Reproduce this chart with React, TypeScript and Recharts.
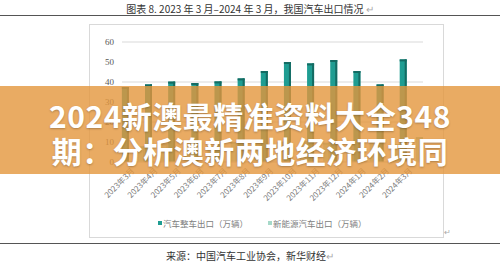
import { BarChart, Bar, XAxis, YAxis, CartesianGrid } from "recharts";

// 月份
const months = [
  "2023年3月", "2023年4月", "2023年5月", "2023年6月", "2023年7月",
  "2023年8月", "2023年9月", "2023年10月", "2023年11月", "2023年12月",
  "2024年1月", "2024年2月", "2024年3月",
];
// 汽车整车出口（万辆）
const vehicleExports = [37.5, 38.8, 40.2, 39.5, 40.3, 41.8, 45.5, 50, 49.3, 51, 45.5, 38.8, 51.3];
// 新能源汽车出口（万辆）- 被遮挡，估计值
const nevExports = [7.8, 9.2, 10.9, 8.0, 10.0, 9.6, 10.1, 10.3, 9.6, 10.3, 10.1, 8.9, 12.4];
const yTicks = [0, 10, 20, 30, 40, 50, 60];

const seriesNames = ["汽车整车出口（万辆）", "新能源汽车出口（万辆）"];
const TEAL = "#1f9d92";
const TEAL_DARK = "#146b63";
const MINT = "#a6d9c9";

const data = months.map((m, i) => ({
  month: m,
  vehicle: vehicleExports[i],
  nev: nevExports[i],
}));

// 伪 3D 柱子
const Bar3D = (props: any) => {
  const { x, y, width, height, fill, dark } = props;
  if (!height || height <= 0) return null;
  return (
    <g>
      <rect x={x} y={y} width={width} height={height} fill={fill} />
      <rect x={x + width - 2} y={y} width={2} height={height} fill={dark} />
      <rect x={x} y={y} width={width} height={2} fill={dark} />
    </g>
  );
};

const MonthTick = ({ x, y, payload }: any) => (
  <text
    x={x}
    y={y}
    dy={2}
    transform={`rotate(-45, ${x}, ${y})`}
    textAnchor="end"
    fontSize={8}
    fill="#808080"
    fontFamily="'Noto Sans CJK SC', sans-serif"
  >
    {payload.value}
  </text>
);

export default function App() {
  return (
    <div
      style={{
        position: "absolute",
        left: 0,
        top: 0,
        width: 500,
        height: 269,
        background: "#fff",
        overflow: "hidden",
        fontFamily: "'Noto Sans CJK SC', sans-serif",
      }}
    >
      {/* 标题 */}
      <div
        style={{
          position: "absolute",
          top: 2,
          left: 0,
          width: 500,
          textAlign: "center",
          fontSize: 10,
          color: "#333",
          lineHeight: "14px",
        }}
      >
        图表 8. 2023 年 3 月–2024 年 3 月，我国汽车出口情况 <span style={{ color: "#aaa" }}>↵</span>
      </div>
      <div style={{ position: "absolute", top: 15, left: 0, width: 500, height: 1, background: "#555" }} />

      {/* 图表框 */}
      <div
        style={{
          position: "absolute",
          left: 89,
          top: 24,
          width: 353,
          height: 212,
          border: "1px solid #d9d9d9",
        }}
      />
      <div style={{ position: "absolute", left: 89, top: 24 }}>
        <BarChart
          width={354}
          height={212}
          data={data}
          margin={{ top: 18, right: 20, left: 0, bottom: 0 }}
          barGap="-100%"
        >
          <CartesianGrid vertical={false} stroke="#d9d9d9" />
          <XAxis
            dataKey="month"
            height={74}
            interval={0}
            tickLine={false}
            axisLine={{ stroke: "#d9d9d9" }}
            tick={<MonthTick />}
          />
          <YAxis
            width={33}
            domain={[0, 60]}
            ticks={yTicks}
            tickLine={false}
            axisLine={false}
            tick={{ fontSize: 9, fill: "#595959", fontFamily: "'Liberation Serif', serif" }}
          />
          <Bar
            dataKey="nev"
            name={seriesNames[1]}
            barSize={7}
            isAnimationActive={false}
            shape={(p: any) => <Bar3D {...p} fill={MINT} dark="#86bfae" />}
          />
          <Bar
            dataKey="vehicle"
            name={seriesNames[0]}
            barSize={7}
            isAnimationActive={false}
            shape={(p: any) => <Bar3D {...p} fill={TEAL} dark={TEAL_DARK} />}
          />
        </BarChart>
      </div>

      {/* 图例 */}
      <div
        style={{
          position: "absolute",
          top: 217,
          left: 158,
          display: "flex",
          alignItems: "center",
          fontSize: 8.5,
          color: "#808080",
          whiteSpace: "nowrap",
        }}
      >
        <span style={{ width: 4, height: 4, background: TEAL, marginRight: 1 }} />
        <span>{seriesNames[0]}</span>
        <span style={{ width: 4, height: 4, background: MINT, marginLeft: 20, marginRight: 1 }} />
        <span>{seriesNames[1]}</span>
      </div>
      <div style={{ position: "absolute", left: 444, top: 226, fontSize: 8, color: "#aaa" }}>↵</div>

      <div style={{ position: "absolute", top: 243, left: 0, width: 500, height: 1, background: "#555" }} />
      {/* 来源 */}
      <div
        style={{
          position: "absolute",
          top: 249,
          left: 0,
          width: 500,
          textAlign: "center",
          fontSize: 10,
          color: "#333",
          lineHeight: "14px",
        }}
      >
        来源：中国汽车工业协会，新华财经<span style={{ color: "#aaa" }}>↵</span>
      </div>

      {/* 遮罩横幅 */}
      <div
        style={{
          position: "absolute",
          top: 86,
          left: 0,
          width: 500,
          height: 88,
          background: "rgba(228,150,60,0.8)",
          color: "#fff",
          fontWeight: 700,
          fontSize: 30,
          textAlign: "center",
          lineHeight: "35px",
          paddingTop: 12,
          boxSizing: "border-box",
          textShadow: "0 1px 2px rgba(0,0,0,0.25)",
          letterSpacing: 0.5,
        }}
      >
        <div>2024新澳最精准资料大全348</div>
        <div>期：分析澳新两地经济环境同</div>
      </div>
    </div>
  );
}
